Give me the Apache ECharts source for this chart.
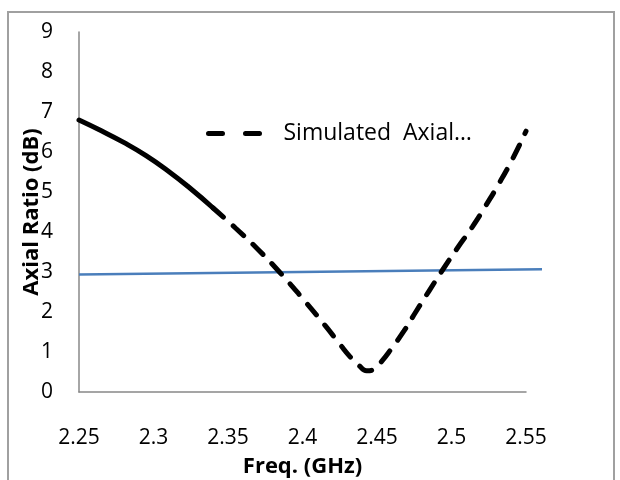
<!DOCTYPE html>
<html>
<head>
<meta charset="utf-8">
<script src="https://cdn.jsdelivr.net/npm/echarts@6/dist/echarts.min.js"></script>
<style>
    html, body { margin: 0; padding: 0; background: #fff; }
    #chart { width: 620px; height: 480px; }
</style>
</head>
<body>
<div id="chart"></div>
<script>
// solid start of the simulated curve
const freqSolid = [2.25, 2.265, 2.28, 2.295, 2.31, 2.325, 2.34];
const arSolid = [6.8, 6.53, 6.24, 5.91, 5.52, 5.08, 4.6];
// dashed remainder
const freqDashed = [2.34, 2.355, 2.37, 2.385, 2.4, 2.415, 2.425, 2.432, 2.438, 2.443, 2.448, 2.453, 2.46, 2.468, 2.476, 2.485, 2.494, 2.504, 2.514, 2.523, 2.532, 2.541, 2.55];
const arDashed = [4.6, 4.1, 3.57, 2.98, 2.34, 1.67, 1.2, 0.88, 0.66, 0.53, 0.57, 0.76, 1.1, 1.52, 2.0, 2.53, 3.05, 3.6, 4.13, 4.66, 5.22, 5.83, 6.52];
// blue 3 dB reference (runs a little past the last tick)
const freqRef = [2.25, 2.561];
const arRef = [2.94, 3.07];

const xTicks = ['2.25', '2.3', '2.35', '2.4', '2.45', '2.5', '2.55'];

const pairs = (xs, ys) => xs.map((x, i) => [x, ys[i]]);

let chart = echarts.init(document.getElementById('chart'));

let option = {
    backgroundColor: '#fff',
    animation: false,
    textStyle: { fontFamily: 'Open Sans' },
    graphic: [{
        type: 'rect',
        shape: { x: 8, y: 12, width: 606, height: 480 },
        style: { fill: 'none', stroke: '#a0a0a0', lineWidth: 2 }
    }],
    grid: [
        { left: 79, right: 94, top: 32, bottom: 88, containLabel: false, outerBoundsMode: 'none' },
        // same plot, stretched so the reference line can run past 2.55
        { left: 79, right: 78, top: 32, bottom: 88, containLabel: false, outerBoundsMode: 'none' }
    ],
    legend: {
        data: ['Simulated  Axial…'],
        left: 201,
        top: 117,
        itemWidth: 58,
        itemHeight: 14,
        itemStyle: { opacity: 0 },
        lineStyle: { color: '#000', width: 5, type: [14, 23], cap: 'round' },
        textStyle: { fontSize: 23, color: '#000', padding: [0, 0, 0, 12] }
    },
    xAxis: [{
        type: 'value',
        gridIndex: 0,
        min: 2.25,
        max: 2.55,
        interval: 0.05,
        name: 'Freq. (GHz)',
        nameLocation: 'middle',
        nameGap: 64,
        nameMoveOverlap: false,
        nameTextStyle: { fontSize: 22, fontWeight: 'bold', color: '#000' },
        axisLine: { show: true, lineStyle: { color: '#888', width: 1.5 } },
        axisTick: { show: false },
        splitLine: { show: false },
        axisLabel: {
            margin: 36,
            fontSize: 21,
            color: '#000',
            formatter: function (v) {
                let idx = Math.round((v - 2.25) / 0.05);
                return xTicks[idx] || '';
            }
        }
    }, {
        type: 'value',
        gridIndex: 1,
        min: 2.25,
        max: 2.561,
        show: false
    }],
    yAxis: [{
        type: 'value',
        gridIndex: 0,
        min: 0,
        max: 9,
        interval: 1,
        name: 'Axial Ratio (dB)',
        nameLocation: 'middle',
        nameGap: 36,
        nameMoveOverlap: false,
        nameTextStyle: { fontSize: 22, fontWeight: 'bold', color: '#000' },
        axisLine: { show: true, lineStyle: { color: '#888', width: 1.5 } },
        axisTick: { show: false },
        splitLine: { show: false },
        axisLabel: { margin: 26, fontSize: 21, color: '#000' }
    }, {
        type: 'value',
        gridIndex: 1,
        min: 0,
        max: 9,
        show: false
    }],
    series: [
        {
            name: 'ref3dB',
            type: 'line',
            xAxisIndex: 1,
            yAxisIndex: 1,
            data: pairs(freqRef, arRef),
            symbol: 'none',
            lineStyle: { color: '#4a7ebb', width: 2.5 },
            z: 1
        },
        {
            name: 'solidPart',
            type: 'line',
            data: pairs(freqSolid, arSolid),
            symbol: 'none',
            smooth: true,
            lineStyle: { color: '#000', width: 5, cap: 'round' },
            z: 2
        },
        {
            name: 'Simulated  Axial…',
            type: 'line',
            data: pairs(freqDashed, arDashed),
            symbol: 'none',
            smooth: true,
            itemStyle: { color: '#000' },
            lineStyle: { color: '#000', width: 5, type: [14, 13], cap: 'round' },
            z: 2
        }
    ]
};

chart.setOption(option);
</script>
</body>
</html>
